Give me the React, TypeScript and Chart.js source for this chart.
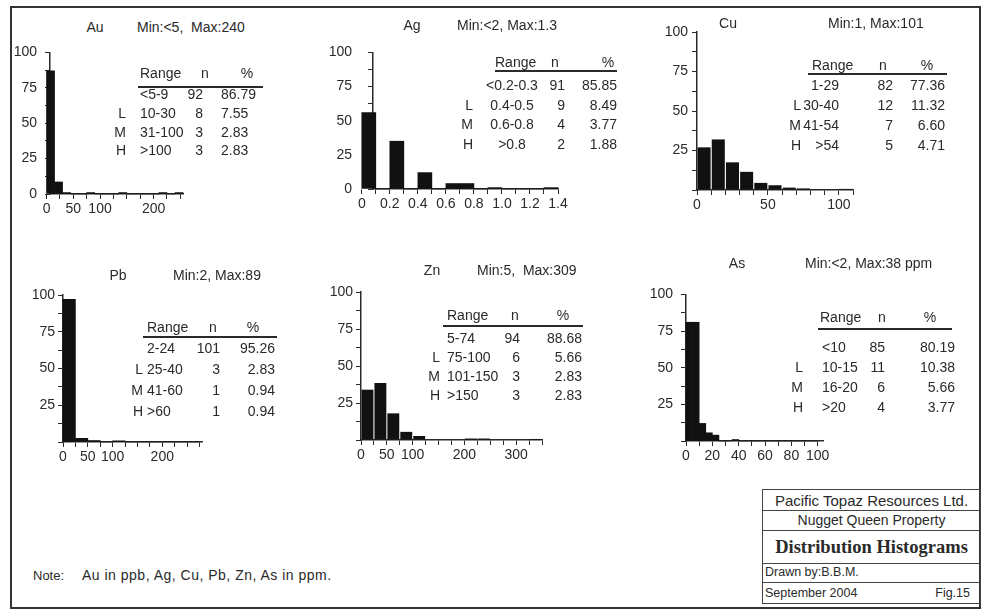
import React, { useEffect, useRef } from 'react';
import { Chart, registerables } from 'chart.js';
Chart.register(...registerables);

// ---------------- data ----------------
const elements = ['Au', 'Ag', 'Cu', 'Pb', 'Zn', 'As'];
const minMaxTexts = ['Min:<5,  Max:240', 'Min:<2, Max:1.3', 'Min:1, Max:101', 'Min:2, Max:89', 'Min:5,  Max:309', 'Min:<2, Max:38 ppm'];

const auBinWidth = 15;
const auPercent = [87, 8.5, 1, 0, 0, 1, 0, 0, 0, 1, 0, 0, 0, 0, 1, 0, 1];
const auXTickLabels = [0, 50, 100, 200];

const agBinWidth = 0.1;
const agPercent = [56, 0, 35, 0, 12, 0, 4, 4, 0, 1, 0, 0, 0, 1];
const agXTickLabels = [0, 0.2, 0.4, 0.6, 0.8, 1.0, 1.2, 1.4];

const cuBinWidth = 10;
const cuPercent = [27, 32, 17.5, 11.5, 4.5, 3, 1.5, 1, 0.5, 0, 0.7];
const cuXTickLabels = [0, 50, 100];

const pbBinWidth = 25;
const pbPercent = [97, 2.5, 1, 0, 0.8, 0, 0, 0, 0, 0, 0];
const pbXTickLabels = [0, 50, 100, 200];

const znBinWidth = 25;
const znPercent = [34, 38.5, 18, 5.5, 2.7, 0, 0, 0, 1, 1, 0, 0, 0, 0.7];
const znXTickLabels = [0, 50, 100, 200, 300];

const asBinWidth = 5;
const asPercent = [81, 81, 12, 5.6, 4, 0, 0, 1, 0, 0, 0, 0, 0, 0, 0, 0, 0, 0, 0, 0];
const asXTickLabels = [0, 20, 40, 60, 80, 100];

const yTickLabelsWithZero = [0, 25, 50, 75, 100];
const yTickLabels = [25, 50, 75, 100];

const classLetters = ['', 'L', 'M', 'H'];

const auRanges = ['<5-9', '10-30', '31-100', '>100'];
const auCounts = [92, 8, 3, 3];
const auPcts = ['86.79', '7.55', '2.83', '2.83'];

const agRanges = ['<0.2-0.3', '0.4-0.5', '0.6-0.8', '>0.8'];
const agCounts = [91, 9, 4, 2];
const agPcts = ['85.85', '8.49', '3.77', '1.88'];

const cuRanges = ['1-29', '30-40', '41-54', '>54'];
const cuCounts = [82, 12, 7, 5];
const cuPcts = ['77.36', '11.32', '6.60', '4.71'];

const pbRanges = ['2-24', '25-40', '41-60', '>60'];
const pbCounts = [101, 3, 1, 1];
const pbPcts = ['95.26', '2.83', '0.94', '0.94'];

const znRanges = ['5-74', '75-100', '101-150', '>150'];
const znCounts = [94, 6, 3, 3];
const znPcts = ['88.68', '5.66', '2.83', '2.83'];

const asRanges = ['<10', '10-15', '16-20', '>20'];
const asCounts = [85, 11, 6, 4];
const asPcts = ['80.19', '10.38', '5.66', '3.77'];

// ---------------- styles / layout ----------------
const FONT = '"Liberation Sans", Arial, Helvetica, sans-serif';
const SERIF = '"Liberation Serif", "Times New Roman", serif';
const INK = '#2a2a2a';

const charts = [
  { values: auPercent, bin: auBinWidth, xMin: 6.5, xMax: 255, xStep: 25, xLabels: auXTickLabels, yLabels: yTickLabelsWithZero, dec: 0, barPct: 1, yPad: 8, area: { l: 50, r: 183, t: 50, b: 194 } },
  { values: agPercent, bin: agBinWidth, xMin: 0.08, xMax: 1.4, xStep: 0.1, xLabels: agXTickLabels, yLabels: yTickLabelsWithZero, dec: 1, barPct: 1, yPad: 16, area: { l: 373, r: 558, t: 42, b: 189 } },
  { values: cuPercent, bin: cuBinWidth, xMin: 0, xMax: 110, xStep: 10, xLabels: cuXTickLabels, yLabels: yTickLabels, dec: 0, barPct: 0.92, yPad: 4, area: { l: 697, r: 853, t: 32, b: 190 } },
  { values: pbPercent, bin: pbBinWidth, xMin: 0, xMax: 280, xStep: 25, xLabels: pbXTickLabels, yLabels: yTickLabels, dec: 0, barPct: 1, yPad: 3, area: { l: 63, r: 202, t: 295, b: 442 } },
  { values: znPercent, bin: znBinWidth, xMin: 0, xMax: 350, xStep: 25, xLabels: znXTickLabels, yLabels: yTickLabels, dec: 0, barPct: 0.92, yPad: 3, area: { l: 361, r: 542, t: 292, b: 440 } },
  { values: asPercent, bin: asBinWidth, xMin: 0, xMax: 104, xStep: 10, xLabels: asXTickLabels, yLabels: yTickLabels, dec: 0, barPct: 1, yPad: 8, area: { l: 686, r: 823, t: 292, b: 441 } },
];

const titlePos = [
  { ex: 95, mx: 137, y: 27 },
  { ex: 412, mx: 457, y: 25 },
  { ex: 728, mx: 828, y: 23 },
  { ex: 118, mx: 173, y: 275 },
  { ex: 432, mx: 477, y: 270 },
  { ex: 737, mx: 805, y: 263 },
];

const tables = [
  { ranges: auRanges, counts: auCounts, pcts: auPcts, lay: { hy: 73, hRange: 140, hN: 205, hPct: 247, ly: 86, lx1: 138, lx2: 263, rows: [94, 113, 131.5, 150], pR: 126, rX: 140, rAlign: 'left', nR: 203, pctX: 221, pctAlign: 'left' } },
  { ranges: agRanges, counts: agCounts, pcts: agPcts, lay: { hy: 62, hRange: 495, hN: 555, hPct: 608, ly: 70, lx1: 495, lx2: 617, rows: [85, 104.5, 124, 143.5], pR: 473, rX: 512, rAlign: 'center', nR: 565, pctX: 617, pctAlign: 'right' } },
  { ranges: cuRanges, counts: cuCounts, pcts: cuPcts, lay: { hy: 65, hRange: 812, hN: 883, hPct: 927, ly: 73, lx1: 808, lx2: 947, rows: [85, 105, 125, 145], pR: 801, rX: 839, rAlign: 'right', nR: 893, pctX: 945, pctAlign: 'right' } },
  { ranges: pbRanges, counts: pbCounts, pcts: pbPcts, lay: { hy: 327, hRange: 147, hN: 213, hPct: 253, ly: 336, lx1: 143, lx2: 277, rows: [348, 369, 390, 411], pR: 143, rX: 147, rAlign: 'left', nR: 220, pctX: 275, pctAlign: 'right' } },
  { ranges: znRanges, counts: znCounts, pcts: znPcts, lay: { hy: 315, hRange: 447, hN: 515, hPct: 563, ly: 325, lx1: 443, lx2: 583, rows: [338, 357, 376, 395], pR: 440, rX: 447, rAlign: 'left', nR: 520, pctX: 582, pctAlign: 'right' } },
  { ranges: asRanges, counts: asCounts, pcts: asPcts, lay: { hy: 317, hRange: 820, hN: 882, hPct: 930, ly: 328, lx1: 818, lx2: 952, rows: [347, 367, 387, 407], pR: 803, rX: 822, rAlign: 'left', nR: 885, pctX: 955, pctAlign: 'right' } },
];

// ---------------- components ----------------
type TProps = { x: number; y: number; text: string; align?: string; size?: number; family?: string; weight?: number; ls?: number };
function T({ x, y, text, align = 'left', size = 14, family = FONT, weight = 400, ls = 0 }: TProps) {
  const tx = align === 'left' ? '0' : align === 'right' ? '-100%' : '-50%';
  return (
    <div style={{ position: 'absolute', left: x, top: y, transform: `translate(${tx}, -50%)`, fontFamily: family, fontSize: size, fontWeight: weight, color: INK, whiteSpace: 'pre', lineHeight: 1, letterSpacing: ls }}>
      {text}
    </div>
  );
}

const PADL = 48, PADT = 14, PADR = 26, PADB = 26;

function Histogram({ spec }: { spec: any }) {
  const ref = useRef<HTMLCanvasElement>(null);
  const { area } = spec;
  const w = area.r - area.l + PADL + PADR;
  const h = area.b - area.t + PADT + PADB;
  useEffect(() => {
    const data = spec.values.map((y: number, i: number) => ({ x: (i + 0.5) * spec.bin, y }));
    const nTicks = Math.round(spec.xMax / spec.xStep + 1e-9);
    const xTicks: number[] = [];
    for (let i = 0; i <= nTicks; i++) xTicks.push(Math.round(i * spec.xStep * 1000) / 1000);
    const yTicks: number[] = [];
    for (let i = 0; i <= 8; i++) yTicks.push(i * 12.5);
    const isLabel = (list: number[], v: number) => list.some((l) => Math.abs(l - v) < 1e-6);
    const chart = new Chart(ref.current as HTMLCanvasElement, {
      type: 'bar',
      data: {
        datasets: [
          {
            data,
            backgroundColor: '#111',
            borderWidth: 0,
            barPercentage: spec.barPct,
            categoryPercentage: 1,
            clip: false as any,
          } as any,
        ],
      },
      options: {
        animation: false,
        responsive: false,
        maintainAspectRatio: false,
        events: [],
        layout: { padding: { top: PADT, right: PADR, left: 0, bottom: 0 } },
        plugins: { legend: { display: false }, tooltip: { enabled: false } },
        scales: {
          x: {
            type: 'linear',
            offset: false,
            min: spec.xMin,
            max: spec.xMax,
            grid: { offset: false, drawOnChartArea: false, drawTicks: true, tickLength: 5, color: INK, tickColor: INK, tickWidth: 1 },
            border: { display: true, color: INK, width: 1.5 },
            ticks: {
              autoSkip: false,
              maxRotation: 0,
              minRotation: 0,
              padding: 2,
              color: INK,
              font: { family: FONT, size: 14 },
              callback: (v: any) => {
                const n = Number(v);
                if (!isLabel(spec.xLabels, n)) return '';
                return n === 0 ? '0' : n.toFixed(spec.dec);
              },
            },
            afterBuildTicks: (s: any) => {
              s.ticks = xTicks.map((v) => ({ value: v }));
            },
            afterFit: (s: any) => {
              s.height = PADB;
            },
          } as any,
          y: {
            type: 'linear',
            min: 0,
            max: 100,
            grid: { drawOnChartArea: false, drawTicks: true, tickLength: 5, color: INK, tickColor: INK, tickWidth: 1 },
            border: { display: true, color: INK, width: 1.5 },
            ticks: {
              autoSkip: false,
              padding: spec.yPad,
              color: INK,
              font: { family: FONT, size: 14 },
              callback: (v: any) => (isLabel(spec.yLabels, Number(v)) ? String(v) : ''),
            },
            afterBuildTicks: (s: any) => {
              s.ticks = yTicks.map((v) => ({ value: v }));
            },
            afterFit: (s: any) => {
              s.width = PADL;
            },
          } as any,
        },
      },
    });
    return () => chart.destroy();
  }, []);
  return (
    <canvas
      ref={ref}
      width={w}
      height={h}
      style={{ position: 'absolute', left: area.l - PADL, top: area.t - PADT, width: w, height: h }}
    />
  );
}

function StatTable({ ranges, counts, pcts, lay }: any) {
  return (
    <>
      <T x={lay.hRange} y={lay.hy} text="Range" />
      <T x={lay.hN} y={lay.hy} text="n" align="center" />
      <T x={lay.hPct} y={lay.hy} text="%" align="center" />
      <div style={{ position: 'absolute', left: lay.lx1, top: lay.ly, width: lay.lx2 - lay.lx1, height: 1.5, background: INK }} />
      {ranges.map((r: string, i: number) => (
        <React.Fragment key={i}>
          {classLetters[i] ? <T x={lay.pR} y={lay.rows[i]} text={classLetters[i]} align="right" /> : null}
          <T x={lay.rX} y={lay.rows[i]} text={r} align={lay.rAlign} />
          <T x={lay.nR} y={lay.rows[i]} text={String(counts[i])} align="right" />
          <T x={lay.pctX} y={lay.rows[i]} text={pcts[i]} align={lay.pctAlign} />
        </React.Fragment>
      ))}
    </>
  );
}

function Line({ x, y, w, h }: { x: number; y: number; w: number; h: number }) {
  return <div style={{ position: 'absolute', left: x, top: y, width: w, height: h, background: '#444' }} />;
}

export default function App() {
  return (
    <div style={{ position: 'absolute', left: 0, top: 0, width: 984, height: 613, background: '#fff', overflow: 'hidden' }}>
      {/* outer frame */}
      <div style={{ position: 'absolute', left: 10, top: 6, width: 971, height: 603, border: '2px solid #333', boxSizing: 'border-box' }} />

      {charts.map((c, i) => (
        <Histogram key={i} spec={c} />
      ))}

      {elements.map((e, i) => (
        <React.Fragment key={e}>
          <T x={titlePos[i].ex} y={titlePos[i].y} text={e} align="center" />
          <T x={titlePos[i].mx} y={titlePos[i].y} text={minMaxTexts[i]} />
        </React.Fragment>
      ))}

      {tables.map((t, i) => (
        <StatTable key={i} {...t} />
      ))}

      {/* note */}
      <T x={33} y={575} text="Note:" size={13} />
      <T x={82} y={575} text="Au in ppb, Ag, Cu, Pb, Zn, As in ppm." size={14} ls={0.5} />

      {/* title block */}
      <div style={{ position: 'absolute', left: 762, top: 489, width: 219, height: 115, border: '1.5px solid #444', boxSizing: 'border-box' }} />
      <Line x={762} y={509.5} w={219} h={1.5} />
      <Line x={762} y={529.5} w={219} h={1.5} />
      <Line x={762} y={562.5} w={219} h={1.5} />
      <Line x={762} y={581.5} w={219} h={1.5} />
      <T x={871.5} y={500} text="Pacific Topaz Resources Ltd." align="center" size={15} />
      <T x={871.5} y={520} text="Nugget Queen Property" align="center" size={14} />
      <T x={871.5} y={547} text="Distribution Histograms" align="center" size={18.5} family={SERIF} weight={700} />
      <T x={765} y={572} text="Drawn by:B.B.M." size={12.5} />
      <T x={765} y={593} text="September 2004" size={12.5} />
      <T x={970} y={593} text="Fig.15" align="right" size={12.5} />
    </div>
  );
}
